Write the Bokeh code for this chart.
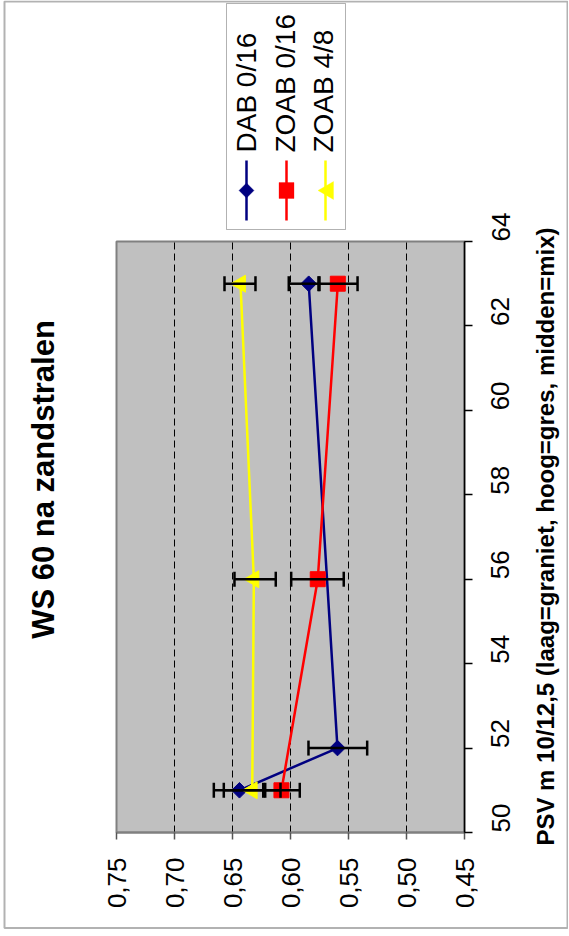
import math
from bokeh.plotting import figure
from bokeh.models import (Range1d, FixedTicker, CustomJSTickFormatter, Whisker, TeeHead,
                          ColumnDataSource, Label, BoxAnnotation, PolyAnnotation, LinearAxis)
from bokeh.embed import file_html
from bokeh.resources import INLINE

# ---------------- data ----------------
title_text = "WS 60 na zandstralen"
psv_axis_title = "PSV m 10/12,5 (laag=graniet, hoog=gres, midden=mix)"
series_names = ["DAB 0/16", "ZOAB 0/16", "ZOAB 4/8"]

dab_psv = [51, 52, 63]
dab_ws = [0.644, 0.5595, 0.5843]
dab_err_hi = [0.6661, 0.5845, 0.6015]
dab_err_lo = [0.6218, 0.5339, 0.5750]

zoab016_psv = [51, 56, 63]
zoab016_ws = [0.6078, 0.5765, 0.5592]
zoab016_err_hi = [0.6235, 0.5994, 0.5759]
zoab016_err_lo = [0.5920, 0.5541, 0.5422]

zoab48_psv = [51, 56, 63]
zoab48_ws = [0.6330, 0.6316, 0.6431]
zoab48_err_hi = [0.6575, 0.6483, 0.6569]
zoab48_err_lo = [0.6086, 0.6127, 0.6302]

psv_ticks = [50, 52, 54, 56, 58, 60, 62, 64]
ws_ticks = [0.45, 0.50, 0.55, 0.60, 0.65, 0.70, 0.75]
ws_grid = [0.50, 0.55, 0.60, 0.65, 0.70]

# ---------------- layout / styles ----------------
FONT = "Liberation Sans"
colors = ["#000080", "#ff0000", "#ffff00"]
markers = [("square", 11, math.pi / 4), ("square", 15, 0.0), ("triangle", 17, math.pi / 2)]

W, H = 568, 935
# pixel box of the plot area on the page (chart is turned a quarter turn)
PX_L, PX_R = 116, 464     # x of value 0.75 and 0.45
PY_B, PY_T = 832, 241     # y of PSV 50 and 64
v_hi, v_lo = max(ws_ticks), min(ws_ticks)
p_lo, p_hi = min(psv_ticks), max(psv_ticks)
kx = (v_hi - v_lo) / (PX_R - PX_L)
ky = (p_hi - p_lo) / (PY_B - PY_T)


def fx(px):
    return v_hi - (px - PX_L) * kx


def fy(py):
    return p_lo + (PY_B - py) * ky


p = figure(width=W, height=H, x_range=Range1d(fx(0), fx(W)), y_range=Range1d(fy(H), fy(0)),
           x_axis_location=None, y_axis_location=None, min_border=0,
           output_backend="svg", toolbar_location=None)
p.outline_line_color = None
p.background_fill_color = "white"
p.border_fill_color = "white"
p.grid.visible = False

# plot area
p.quad(left=[v_hi], right=[v_lo], bottom=[p_lo], top=[p_hi],
       fill_color="#c0c0c0", line_color="#808080", line_width=2)
# dashed gridlines
p.segment(x0=ws_grid, y0=[p_lo] * len(ws_grid), x1=ws_grid, y1=[p_hi] * len(ws_grid),
          line_color="black", line_width=1, line_dash="7 4")

# value axis (bottom)
xa = LinearAxis(fixed_location=p_lo, bounds=(v_lo, v_hi), ticker=FixedTicker(ticks=ws_ticks),
                formatter=CustomJSTickFormatter(code="return tick.toFixed(2).replace('.', ',');"))
xa.major_label_orientation = math.pi / 2
xa.major_label_text_font = FONT
xa.major_label_text_font_size = "26px"
xa.major_label_text_color = "black"
xa.major_label_standoff = 18
xa.axis_line_color = "#808080"
xa.axis_line_width = 2
xa.major_tick_line_color = "#555555"
xa.major_tick_line_width = 1.5
xa.major_tick_out = 7
xa.major_tick_in = 0
xa.minor_tick_line_color = None
p.add_layout(xa, "below")

# PSV axis (right)
ya = LinearAxis(fixed_location=v_lo, bounds=(p_lo, p_hi), ticker=FixedTicker(ticks=psv_ticks))
ya.major_label_orientation = math.pi / 2
ya.major_label_text_font = FONT
ya.major_label_text_font_size = "26px"
ya.major_label_text_color = "black"
ya.major_label_standoff = 28
ya.axis_line_color = "black"
ya.axis_line_width = 1.5
ya.major_tick_line_color = "black"
ya.major_tick_line_width = 1.5
ya.major_tick_out = 8
ya.major_tick_in = 0
ya.minor_tick_line_color = None
p.add_layout(ya, "right")

# ---------------- series ----------------
series = [
    (dab_psv, dab_ws, dab_err_lo, dab_err_hi),
    (zoab016_psv, zoab016_ws, zoab016_err_lo, zoab016_err_hi),
    (zoab48_psv, zoab48_ws, zoab48_err_lo, zoab48_err_hi),
]

for ps, ws, lo, hi in series:
    src = ColumnDataSource(dict(psv=ps, lo=lo, hi=hi))
    p.add_layout(Whisker(source=src, base="psv", lower="lo", upper="hi", dimension="width",
                         line_color="black", line_width=2.5, level="glyph",
                         lower_head=TeeHead(size=15, line_color="black", line_width=2.5),
                         upper_head=TeeHead(size=15, line_color="black", line_width=2.5)))

for i, (ps, ws, lo, hi) in enumerate(series):
    src = ColumnDataSource(dict(psv=ps, ws=ws))
    p.line("ws", "psv", source=src, line_color=colors[i], line_width=2.5)

for i, (ps, ws, lo, hi) in enumerate(series):
    mk, sz, ang = markers[i]
    src = ColumnDataSource(dict(psv=ps, ws=ws))
    p.scatter("ws", "psv", source=src, marker=mk, size=sz, angle=ang,
              fill_color=colors[i], line_color=colors[i], line_width=1)

# ---------------- texts ----------------
p.add_layout(Label(x=fx(42.5), y=fy(479), text=title_text, angle=math.pi / 2,
                   text_align="center", text_baseline="middle", text_font=FONT,
                   text_font_size="31px", text_font_style="bold", text_color="black"))
p.add_layout(Label(x=fx(544.5), y=fy(536), text=psv_axis_title, angle=math.pi / 2,
                   text_align="center", text_baseline="middle", text_font=FONT,
                   text_font_size="24px", text_font_style="bold", text_color="black"))

# ---------------- legend (turned) ----------------
p.add_layout(BoxAnnotation(left=fx(226), right=fx(345), top=fy(3), bottom=fy(229),
                           fill_color="white", fill_alpha=1.0,
                           line_color="black", line_width=1, level="overlay"))
leg_line_x = [246, 286, 325]
leg_text_x = [246, 284.5, 323.3]
for i, name in enumerate(series_names):
    cx = leg_line_x[i]
    p.add_layout(BoxAnnotation(left=fx(cx - 1.25), right=fx(cx + 1.25), top=fy(160), bottom=fy(220),
                               fill_color=colors[i], fill_alpha=1.0, line_alpha=0, level="overlay"))
    cy = 190
    if i == 0:
        xs = [cx, cx + 7.5, cx, cx - 7.5]
        ys = [cy - 7.5, cy, cy + 7.5, cy]
    elif i == 1:
        xs = [cx - 7.5, cx + 7.5, cx + 7.5, cx - 7.5]
        ys = [cy - 8, cy - 8, cy + 8, cy + 8]
    else:
        xs = [cx - 7.5, cx + 8, cx + 8]
        ys = [cy, cy - 9, cy + 9]
    p.add_layout(PolyAnnotation(xs=[fx(v) for v in xs], ys=[fy(v) for v in ys],
                                fill_color=colors[i], fill_alpha=1.0,
                                line_color=colors[i], line_width=1, level="overlay"))
    p.add_layout(Label(x=fx(leg_text_x[i]), y=fy(152), text=name, angle=math.pi / 2,
                       text_align="left", text_baseline="middle", text_font=FONT,
                       text_font_size="28px", text_color="black", level="overlay"))

# ---------------- outer border ----------------
p.add_layout(BoxAnnotation(left=fx(4), right=fx(567), top=fy(1), bottom=fy(927.5),
                           fill_alpha=0.0, line_color="black", line_width=2, level="overlay"))

open("out.html", "w").write(file_html(p, INLINE))
